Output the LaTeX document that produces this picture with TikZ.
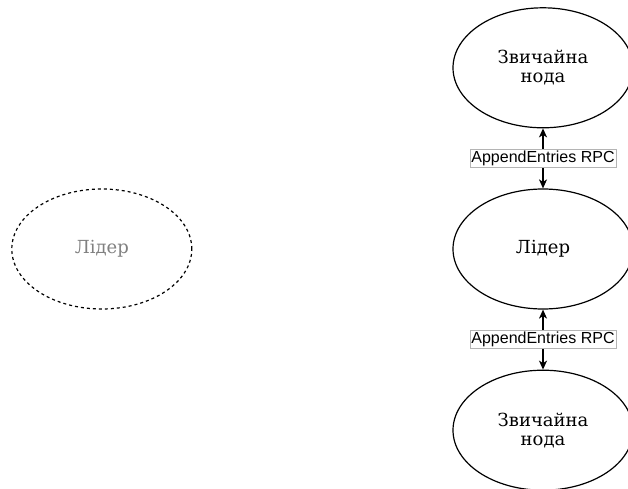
\documentclass[tikz,border=0pt]{standalone}
\usepackage{fontspec}
\setmainfont{DejaVu Serif}
\newfontfamily\rpcfont{Liberation Sans}
\usetikzlibrary{arrows.meta}
\usetikzlibrary{shapes.geometric}
\usetikzlibrary{positioning}
\definecolor{ghostgray}{RGB}{128,128,128}
\definecolor{rpcborder}{RGB}{180,180,180}
\tikzset{
	every node/.style={font=\fontsize{18}{19}\selectfont}
}
\tikzset{
	rpc/.style={fill=white,draw=rpcborder,line width=0.6pt,inner sep=1.5pt,font=\rpcfont\fontsize{16}{17}\selectfont}
}
\tikzset{
	>={Stealth[length=9pt,width=8pt,inset=2.5pt]},node distance=60pt,
	main node/.style={ellipse,draw,line width=1.2pt,minimum width=180pt,minimum height=120pt,inner sep=0pt,align=center},
	ghost/.style={dash pattern=on 3pt off 3pt,text=ghostgray},
	link/.style={<->,line width=1.3pt}
}

\begin{document}
\begin{tikzpicture}[x=1pt,y=1pt]
      \useasboundingbox (0,0) rectangle (628,488);
      \node[main node] (leader) at (543,239) {Лідер};
      \node[main node] (upper) [above = 60pt of leader] {Звичайна\\нода};
      \node[main node] (lower) [below = 60pt of leader] {Звичайна\\нода};
      \node[main node, ghost] (oldleader) [left = 260pt of leader] {Лідер};
      \path (upper) edge[link] node[rpc] {AppendEntries RPC} (leader);
      \path (leader) edge[link] node[rpc] {AppendEntries RPC} (lower);
    \end{tikzpicture}
\end{document}
